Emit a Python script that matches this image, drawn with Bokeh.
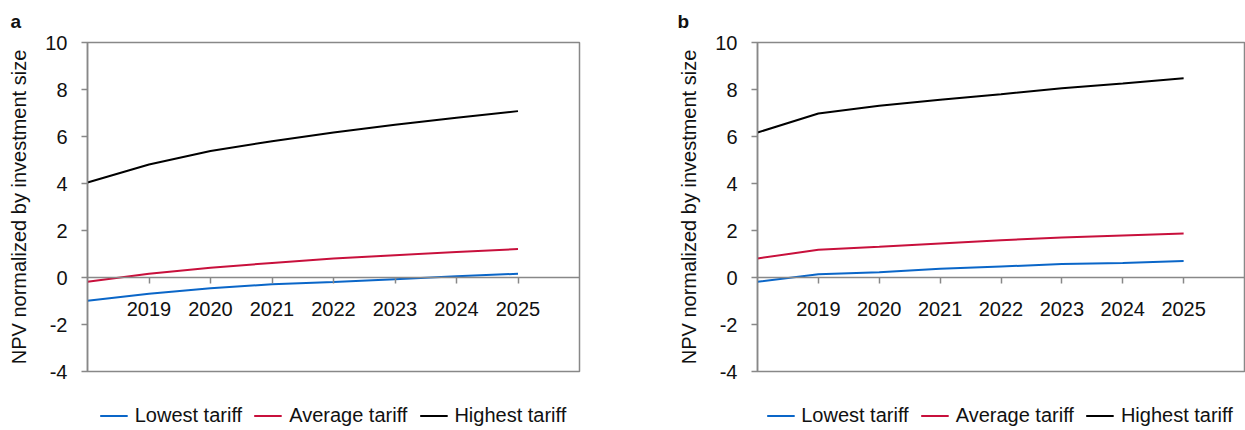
from bokeh.plotting import figure
from bokeh.layouts import row, column
from bokeh.models import Range1d, FixedTicker, Legend, LegendItem, Title, PrintfTickFormatter
from bokeh.embed import file_html
from bokeh.resources import INLINE

years = [2018, 2019, 2020, 2021, 2022, 2023, 2024, 2025]
tick_years = [2019, 2020, 2021, 2022, 2023, 2024, 2025]
y_ticks = [-4, -2, 0, 2, 4, 6, 8, 10]

a_lowest = [-0.99, -0.69, -0.46, -0.29, -0.19, -0.07, 0.05, 0.16]
a_average = [-0.18, 0.16, 0.42, 0.62, 0.81, 0.95, 1.09, 1.21]
a_highest = [4.04, 4.81, 5.38, 5.80, 6.17, 6.50, 6.80, 7.08]

b_lowest = [-0.18, 0.14, 0.22, 0.37, 0.47, 0.57, 0.62, 0.70]
b_average = [0.81, 1.18, 1.31, 1.45, 1.59, 1.70, 1.79, 1.87]
b_highest = [6.17, 6.98, 7.31, 7.56, 7.80, 8.05, 8.26, 8.48]

series_names = ["Lowest tariff", "Average tariff", "Highest tariff"]
colors = ["#0A66C8", "#C8103C", "#000000"]

FONT = "Liberation Sans"
TXT = "#111111"
GRAY = "#888888"


def make_panel(letter, series, width, border_left, border_right, letter_offset):
    p = figure(width=width, height=386, output_backend="svg", toolbar_location=None,
               x_range=Range1d(2018, 2026), y_range=Range1d(-4, 10),
               min_border_left=border_left, min_border_right=border_right,
               min_border_top=42, min_border_bottom=15)
    p.xgrid.visible = False
    p.ygrid.visible = False
    p.outline_line_color = GRAY
    p.outline_line_width = 1.5
    p.background_fill_color = "white"
    p.border_fill_color = "white"

    t = Title(text=letter, align="left", vertical_align="top", text_font=FONT,
              text_font_size="19px", text_font_style="bold", text_color=TXT,
              offset=letter_offset, standoff=18)
    p.add_layout(t, "above")

    xa = p.xaxis[0]
    xa.fixed_location = 0
    xa.ticker = FixedTicker(ticks=tick_years)
    xa.axis_line_color = GRAY
    xa.axis_line_width = 1.5
    xa.major_tick_line_color = GRAY
    xa.major_tick_line_width = 1.5
    xa.major_tick_out = 6
    xa.major_tick_in = 0
    xa.minor_tick_line_color = None
    xa.major_label_text_font = FONT
    xa.major_label_text_font_size = "20px"
    xa.major_label_text_color = TXT
    xa.major_label_standoff = 18

    ya = p.yaxis[0]
    ya.ticker = FixedTicker(ticks=y_ticks)
    ya.formatter = PrintfTickFormatter(format="%d")
    ya.axis_line_color = GRAY
    ya.axis_line_width = 1.5
    ya.major_tick_line_color = GRAY
    ya.major_tick_line_width = 1.5
    ya.major_tick_out = 6
    ya.major_tick_in = 0
    ya.minor_tick_line_color = None
    ya.major_label_text_font = FONT
    ya.major_label_text_font_size = "20px"
    ya.major_label_text_color = TXT
    ya.major_label_standoff = 14
    ya.axis_label = "NPV normalized by investment size"
    ya.axis_label_text_font = FONT
    ya.axis_label_text_font_size = "20px"
    ya.axis_label_text_font_style = "normal"
    ya.axis_label_text_color = TXT
    ya.axis_label_standoff = 12

    for vals, col in zip(series, colors):
        p.line(years, vals, line_color=col, line_width=2)
    return p


def make_legend(series, width, border_left, border_right):
    # legend-only strip: series drawn out of view so only the legend shows
    lp = figure(width=width, height=44, output_backend="svg", toolbar_location=None,
                x_axis_location=None, y_axis_location=None,
                x_range=Range1d(2018, 2026), y_range=Range1d(100, 101),
                min_border_left=border_left, min_border_right=border_right,
                min_border_top=14, min_border_bottom=0)
    lp.xgrid.visible = False
    lp.ygrid.visible = False
    lp.outline_line_color = None
    lp.background_fill_color = "white"
    lp.border_fill_color = "white"
    items = []
    for name, vals, col in zip(series_names, series, colors):
        r = lp.line(years, vals, line_color=col, line_width=2)
        items.append(LegendItem(label=name, renderers=[r]))
    legend = Legend(items=items, orientation="horizontal", location="center",
                    label_text_font=FONT, label_text_font_size="20px", label_text_color=TXT,
                    glyph_width=28, glyph_height=20, label_height=20, label_standoff=7,
                    spacing=12, padding=0, margin=0, border_line_color=None,
                    background_fill_alpha=0)
    lp.add_layout(legend, "center")
    return lp


sa = [a_lowest, a_average, a_highest]
sb = [b_lowest, b_average, b_highest]
pa = make_panel("a", sa, 675, 87, 96, -77)
pb = make_panel("b", sb, 570, 80, 1, -80)
la = make_legend(sa, 675, 87, 96)
lb = make_legend(sb, 570, 80, 1)

layout = column(row(pa, pb), row(la, lb))
open("out.html", "w").write(file_html(layout, INLINE))
